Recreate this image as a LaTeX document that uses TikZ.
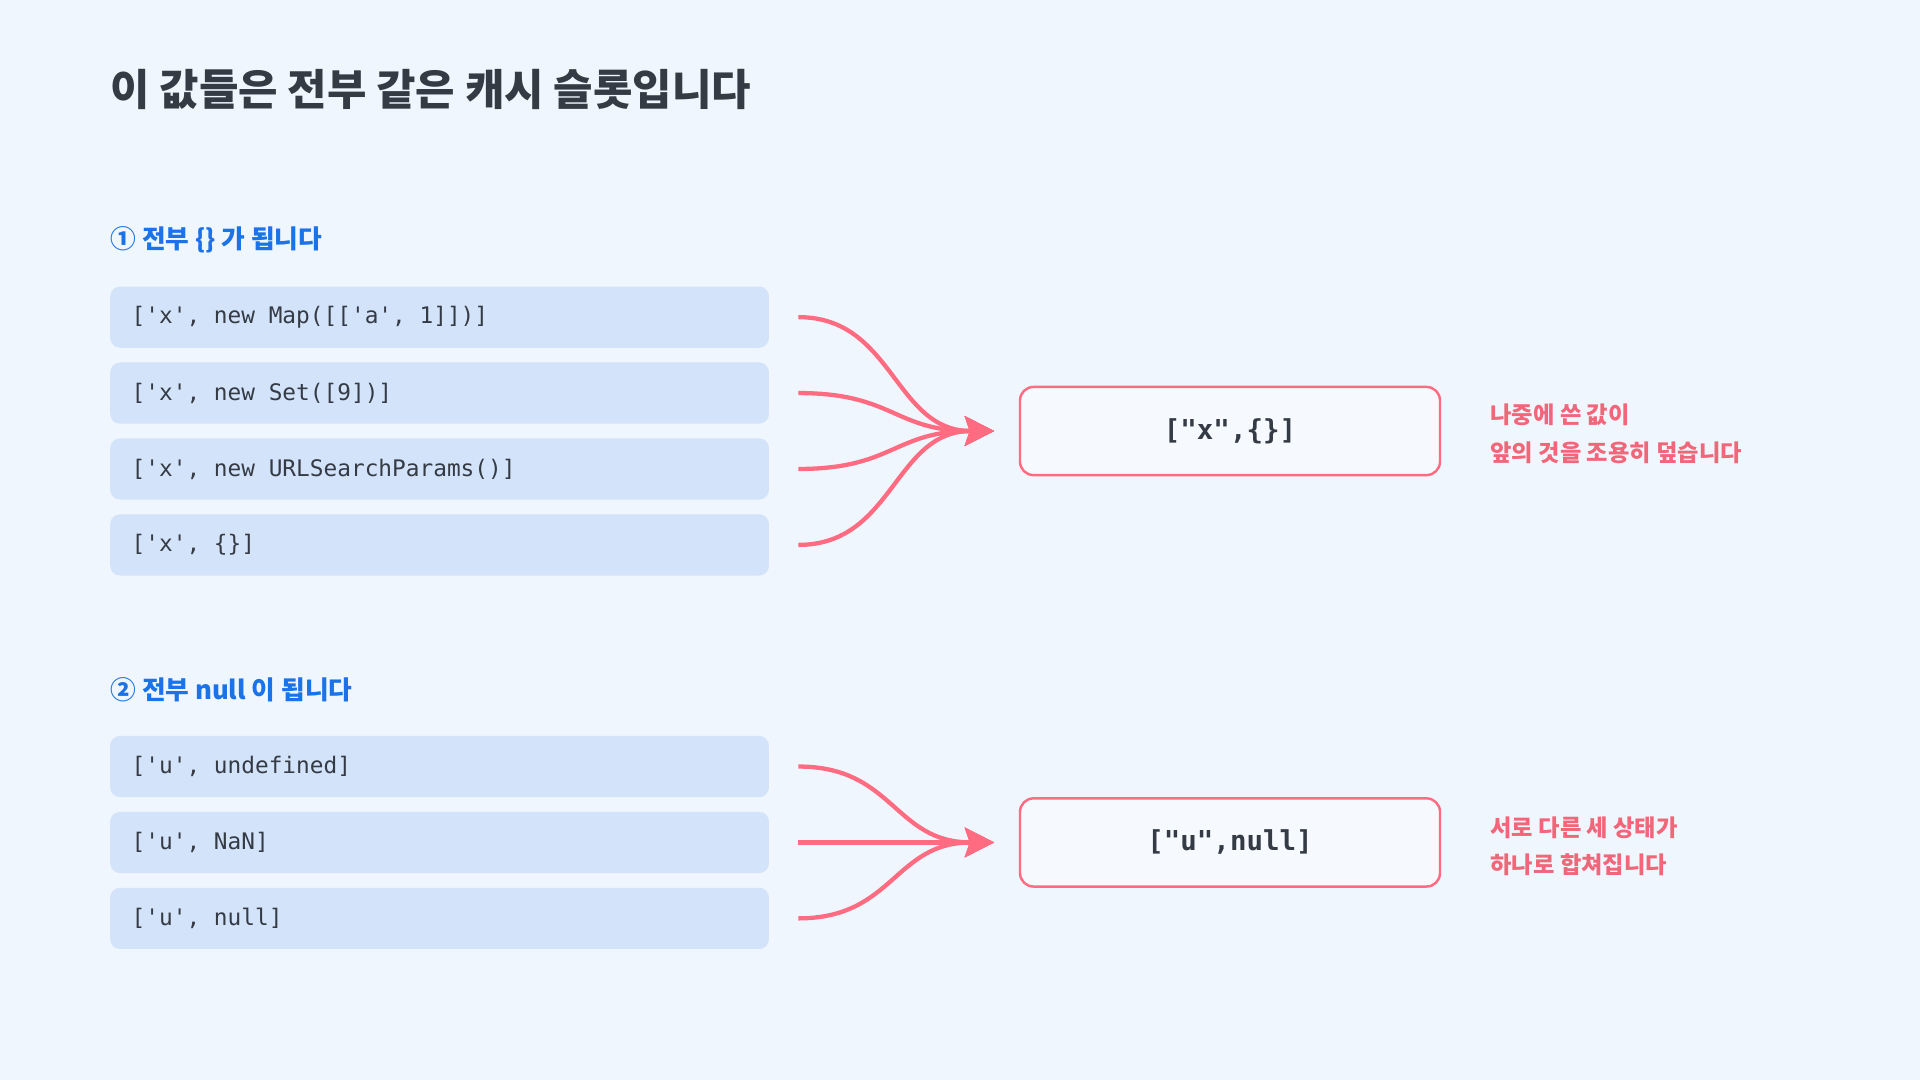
\documentclass[tikz,border=0pt]{standalone}
\usepackage{fontspec}
\setmainfont{Noto Sans CJK KR}
\newfontfamily\kr{Noto Sans CJK KR}
\newfontfamily\mono{DejaVu Sans Mono}
\usetikzlibrary{arrows.meta}
\definecolor{bg}{HTML}{F0F6FE}
\definecolor{boxfill}{HTML}{D3E3FA}
\definecolor{ink}{HTML}{353B45}
\definecolor{blue1}{HTML}{1A73E8}
\definecolor{pink1}{HTML}{FF6B81}
\definecolor{pinktxt}{HTML}{F2667A}
\tikzset{
 src/.style={fill=boxfill,rounded corners=8pt,minimum width=538pt,minimum height=50pt,inner sep=0pt,text=ink,font=\mono\fontsize{18.6}{20}\selectfont},
 dst/.style={draw=pink1,line width=2pt,fill=bg!60!white,rounded corners=11pt,minimum width=343pt,minimum height=72pt,inner sep=0pt,text=ink,font=\mono\bfseries\fontsize{22.4}{24}\selectfont},
 lbl/.style={anchor=west,text=blue1,font=\kr\bfseries\fontsize{21}{24}\selectfont,inner sep=0pt},
 note/.style={anchor=west,text=pinktxt,font=\kr\bfseries\fontsize{19}{22}\selectfont,inner sep=0pt},
 conn/.style={draw=pink1,line width=3.5pt,-{Stealth[length=24pt,width=24pt,inset=4pt]}},
}
\begin{document}
\begin{tikzpicture}[x=1pt,y=-1pt]
\fill[bg] (0,0) rectangle (1568,882);
\useasboundingbox (0,0) rectangle (1568,882);
\node[anchor=west,text=ink,font=\kr\bfseries\fontsize{35}{40}\selectfont,inner sep=0pt] (title) at (90,73) {이 값들은 전부 같은 캐시 슬롯입니다};
\node[lbl] (l1) at (90,196) {① 전부 \{\} 가 됩니다};
\node[src] (a1) at (359,259) {}; \node[anchor=west,text=ink,font=\mono\fontsize{18.6}{20}\selectfont] at (104,259) {['x', new Map([['a', 1]])]};
\node[src] (a2) at (359,321) {}; \node[anchor=west,text=ink,font=\mono\fontsize{18.6}{20}\selectfont] at (104,321) {['x', new Set([9])]};
\node[src] (a3) at (359,383) {}; \node[anchor=west,text=ink,font=\mono\fontsize{18.6}{20}\selectfont] at (104,383) {['x', new URLSearchParams()]};
\node[src] (a4) at (359,445) {}; \node[anchor=west,text=ink,font=\mono\fontsize{18.6}{20}\selectfont] at (104,445) {['x', \{\}]};
\node[dst] (r1) at (1004.5,352) {["x",\{\}]};
\coordinate (t1) at (812,352);
\foreach \i/\y in {1/259,2/321,3/383,4/445}{
 \coordinate (s\i) at (652,\y);
 \draw[conn] (s\i) .. controls (730,\y) and (730,352) .. (t1);
}
\node[note] (n1) at (1217,339) {나중에 쓴 값이};
\node[note] (n2) at (1217,370) {앞의 것을 조용히 덮습니다};
\node[lbl] (l2) at (90,563) {② 전부 null 이 됩니다};
\node[src] (b1) at (359,626) {}; \node[anchor=west,text=ink,font=\mono\fontsize{18.6}{20}\selectfont] at (104,626) {['u', undefined]};
\node[src] (b2) at (359,688) {}; \node[anchor=west,text=ink,font=\mono\fontsize{18.6}{20}\selectfont] at (104,688) {['u', NaN]};
\node[src] (b3) at (359,750) {}; \node[anchor=west,text=ink,font=\mono\fontsize{18.6}{20}\selectfont] at (104,750) {['u', null]};
\node[dst] (r2) at (1004.5,688) {["u",null]};
\coordinate (t2) at (812,688);
\foreach \i/\y in {1/626,2/688,3/750}{
 \coordinate (u\i) at (652,\y);
 \draw[conn] (u\i) .. controls (730,\y) and (730,688) .. (t2);
}
\node[note] (n3) at (1217,676) {서로 다른 세 상태가};
\node[note] (n4) at (1217,706) {하나로 합쳐집니다};
\end{tikzpicture}
\end{document}
